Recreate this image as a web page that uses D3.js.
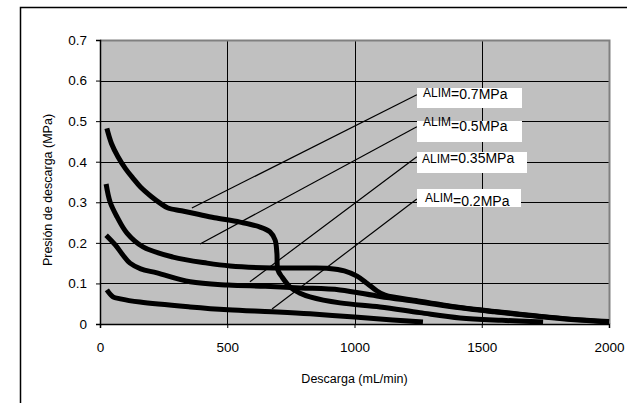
<!DOCTYPE html>
<html>
<head>
<meta charset="utf-8">
<script src="https://cdn.jsdelivr.net/npm/d3@7/dist/d3.min.js"></script>
<style>
  html, body { margin: 0; padding: 0; background: #fff; }
  svg { display: block; font-family: "Liberation Sans", Arial, sans-serif; }
</style>
</head>
<body>
<svg id="chart" width="627" height="403"></svg>
<script>
// Discharge pressure vs. discharge flow for four supply pressures
const flow07 = [27, 45, 70, 100, 130, 160, 200, 236, 267, 320, 381, 450, 550, 629, 668, 688, 695, 699, 715, 747, 786, 825, 943, 1100, 1257, 1415, 1580, 1741];
const pres07 = [0.482, 0.445, 0.413, 0.383, 0.359, 0.337, 0.315, 0.298, 0.286, 0.279, 0.271, 0.262, 0.251, 0.239, 0.227, 0.207, 0.175, 0.133, 0.116, 0.091, 0.076, 0.067, 0.052, 0.042, 0.028, 0.015, 0.009, 0.005];

const flow05 = [24, 40, 67, 106, 169, 287, 421, 511, 680, 825, 900, 960, 1010, 1050, 1085, 1120, 1250, 1415, 1550, 1700, 1850, 2000];
const pres05 = [0.345, 0.300, 0.264, 0.224, 0.19, 0.165, 0.15, 0.143, 0.138, 0.138, 0.137, 0.131, 0.118, 0.100, 0.083, 0.071, 0.057, 0.041, 0.031, 0.021, 0.012, 0.006];

const flow035 = [24, 60, 90, 118, 160, 224, 354, 503, 650, 786, 943, 1100, 1250, 1415, 1550, 1700, 1850, 2000];
const pres035 = [0.219, 0.195, 0.170, 0.150, 0.136, 0.126, 0.104, 0.096, 0.093, 0.089, 0.084, 0.068, 0.055, 0.040, 0.030, 0.020, 0.011, 0.005];

const flow02 = [27, 51, 80, 157, 354, 503, 676, 825, 1000, 1150, 1269];
const pres02 = [0.084, 0.067, 0.062, 0.054, 0.042, 0.035, 0.030, 0.025, 0.017, 0.010, 0.005];

const supplyLabels = ["=0.7MPa", "=0.5MPa", "=0.35MPa", "=0.2MPa"];
// leader line start (near each curve) and end (at the label box), in data units
const leaderFromFlow = [361, 393, 589, 676];
const leaderFromPres = [0.286, 0.197, 0.104, 0.037];
const leaderToFlow = [1245, 1245, 1245, 1245];
const leaderToPres = [0.565, 0.486, 0.412, 0.308];

const xTicks = [0, 500, 1000, 1500, 2000];
const yTicks = [0, 0.1, 0.2, 0.3, 0.4, 0.5, 0.6, 0.7];

// label box geometry relative to the leader end point
const boxLayout = [
  { dy: -7,  w: 105, h: 20, tx: 6, base: 11, sub: -2 },
  { dy: -6,  w: 105, h: 21, tx: 6, base: 10, sub: -5 },
  { dy: -5,  w: 110, h: 21, tx: 5, base: 11, sub: 0 },
  { dy: -10, w: 104, h: 18, tx: 8, base: 17, sub: -4 }
];

const svg = d3.select("#chart");
const W = 627, H = 403;
const plot = { left: 100, right: 609, top: 40, bottom: 324 };

svg.append("rect").attr("width", W).attr("height", H).attr("fill", "#fff");

// outer chart frame (left and top edges visible)
svg.append("path")
  .attr("d", `M20.5,${H} L20.5,7.5 L${W},7.5`)
  .attr("fill", "none").attr("stroke", "#000").attr("stroke-width", 1.5);

const x = d3.scaleLinear().domain([0, 2000]).range([plot.left, plot.right]);
const y = d3.scaleLinear().domain([0, 0.7]).range([plot.bottom, plot.top]);

// plot background
svg.append("rect")
  .attr("x", plot.left).attr("y", plot.top)
  .attr("width", plot.right - plot.left).attr("height", plot.bottom - plot.top)
  .attr("fill", "#c0c0c0");

// gridlines
const grid = svg.append("g").attr("stroke", "#000").attr("stroke-width", 1);
grid.selectAll("line.h").data(yTicks.filter(d => d > 0 && d < 0.7)).join("line")
  .attr("x1", plot.left).attr("x2", plot.right)
  .attr("y1", d => Math.round(y(d)) + 0.5).attr("y2", d => Math.round(y(d)) + 0.5);
grid.selectAll("line.v").data(xTicks.filter(d => d > 0 && d < 2000)).join("line")
  .attr("y1", plot.top).attr("y2", plot.bottom)
  .attr("x1", d => Math.round(x(d)) + 0.5).attr("x2", d => Math.round(x(d)) + 0.5);

// plot border: top and right in gray
svg.append("path")
  .attr("d", `M${plot.left},${plot.top + 0.5} L${plot.right + 0.5},${plot.top + 0.5} L${plot.right + 0.5},${plot.bottom}`)
  .attr("fill", "none").attr("stroke", "#808080").attr("stroke-width", 2);

// axes
const yAxis = svg.append("g")
  .attr("transform", `translate(${plot.left},0)`)
  .call(d3.axisLeft(y).tickValues(yTicks).tickSize(4).tickPadding(9)
    .tickFormat(d => d === 0 ? "0" : d3.format(".1f")(d)));
const xAxis = svg.append("g")
  .attr("transform", `translate(0,${plot.bottom})`)
  .call(d3.axisBottom(x).tickValues(xTicks).tickSize(4).tickPadding(14).tickFormat(d3.format("d")));
[yAxis, xAxis].forEach(a => {
  a.select(".domain").attr("stroke", "#000").attr("stroke-width", 1.5);
  a.selectAll(".tick line").attr("stroke", "#000");
  a.selectAll("text").attr("fill", "#000").style("font-size", "13.5px")
    .style("font-family", "'Liberation Sans', Arial, sans-serif");
});

// axis titles
svg.append("text")
  .attr("x", (plot.left + plot.right) / 2).attr("y", 383)
  .attr("text-anchor", "middle").style("font-size", "12.5px")
  .text("Descarga (mL/min)");
svg.append("text")
  .attr("transform", "translate(52,190) rotate(-90)")
  .attr("text-anchor", "middle").style("font-size", "12.5px")
  .text("Presión de descarga (MPa)");

// curves
const series = [
  { flow: flow07, pres: pres07 },
  { flow: flow05, pres: pres05 },
  { flow: flow035, pres: pres035 },
  { flow: flow02, pres: pres02 }
];
const line = d3.line()
  .x(d => x(d[0])).y(d => y(d[1]))
  .curve(d3.curveCatmullRom.alpha(0.5));
svg.append("g").selectAll("path").data(series).join("path")
  .attr("d", s => line(s.flow.map((f, i) => [f, s.pres[i]])))
  .attr("fill", "none").attr("stroke", "#000")
  .attr("stroke-width", 5).attr("stroke-linejoin", "round");

// leader lines and labels
const labels = svg.append("g");
supplyLabels.forEach((txt, i) => {
  const x0 = x(leaderFromFlow[i]), y0 = y(leaderFromPres[i]);
  const x1 = x(leaderToFlow[i]), y1 = y(leaderToPres[i]);
  labels.append("line")
    .attr("x1", x0).attr("y1", y0).attr("x2", x1).attr("y2", y1)
    .attr("stroke", "#000").attr("stroke-width", 1.2);
  const b = boxLayout[i];
  const bx = Math.round(x1), by = Math.round(y1 + b.dy);
  labels.append("rect")
    .attr("x", bx).attr("y", by).attr("width", b.w).attr("height", b.h)
    .attr("fill", "#fff");
  const t = labels.append("text")
    .attr("x", bx + b.tx).attr("y", by + b.base)
    .style("font-size", "14px").attr("fill", "#000");
  t.append("tspan").attr("dy", b.sub).style("font-size", "12px").text("ALIM");
  t.append("tspan").attr("dy", -b.sub).text(txt);
});
</script>
</body>
</html>
